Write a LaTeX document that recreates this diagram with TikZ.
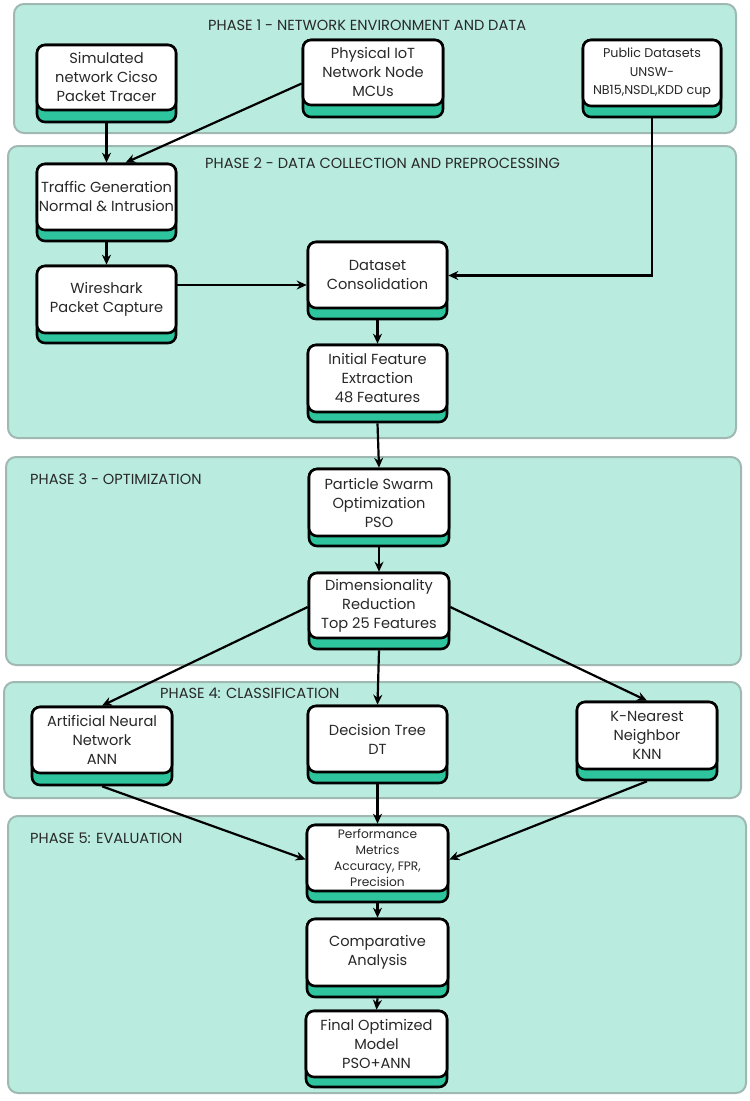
\documentclass[tikz,border=0pt]{standalone}
\usepackage{fontspec}
\setmainfont{Poppins}
\usetikzlibrary{arrows.meta}
\definecolor{panelfill}{RGB}{185,236,223}
\definecolor{paneldraw}{RGB}{160,184,178}
\definecolor{band}{RGB}{46,196,158}
\definecolor{txt}{RGB}{40,40,40}
\tikzset{
  panel/.style={draw=paneldraw, line width=2pt, fill=panelfill, rounded corners=10pt},
  ptitle/.style={anchor=west, text=txt, font=\fontsize{14.6}{16}\selectfont, inner sep=0pt},
  gbox/.style={draw=black, line width=2.6pt, fill=band, rounded corners=8pt, inner sep=0pt},
  wbox/.style={draw=black, line width=2.6pt, fill=white, rounded corners=8pt, inner sep=0pt, align=center, text=txt, font=\fontsize{14.6}{19}\selectfont},
  small/.style={font=\fontsize{12.7}{18.5}\selectfont},
  smaller/.style={font=\fontsize{12.2}{16}\selectfont},
  conn/.style={draw=black, line width=2.2pt, -{Stealth[length=10pt,width=9pt]}}
}
% \bx{name}{x1}{y1}{x2}{y2 white bottom}{y3 band bottom}{options}{text}
\newcommand{\bx}[8]{%
  \node[gbox, minimum width={#4-#2}, minimum height={#6-#3}] (#1) at ({(#2+#4)/2},{(#3+#6)/2}) {};
  \node[wbox, minimum width={#4-#2}, minimum height={#5-#3}, #7] (#1-t) at ({(#2+#4)/2},{(#3+#5)/2}) {#8};
}
\begin{document}
\begin{tikzpicture}[x=1pt,y=-1pt]
\useasboundingbox (0,0) rectangle (750,1101);
\fill[white] (0,0) rectangle (750,1101);
% panels
\draw[panel] (14,4) rectangle (736,133);
\draw[panel] (8,146) rectangle (736,438);
\draw[panel] (6,457) rectangle (741,665);
\draw[panel] (4,682) rectangle (741,798);
\draw[panel] (8,816) rectangle (746,1093);
\node[ptitle] (t1) at (208,25) {PHASE 1 - NETWORK ENVIRONMENT AND DATA};
\node[ptitle] (t2) at (205,163) {PHASE 2 - DATA COLLECTION AND PREPROCESSING};
\node[ptitle] (t3) at (30,479) {PHASE 3 - OPTIMIZATION};
\node[ptitle] (t4) at (160,693) {PHASE 4: CLASSIFICATION};
\node[ptitle] (t5) at (30,838) {PHASE 5: EVALUATION};
% boxes
\bx{sim}{37}{45}{176}{110}{122}{}{Simulated\\network Cicso\\Packet Tracer}
\bx{phy}{303}{40}{443}{105}{117}{}{Physical IoT\\Network Node\\MCUs}
\bx{pub}{583}{40}{721}{106}{117}{small}{Public Datasets\\UNSW-\\NB15,NSDL,KDD cup}
\bx{trf}{37}{164}{176}{230}{241}{}{Traffic Generation\\Normal \& Intrusion}
\bx{wir}{37}{266}{176}{333}{343}{}{Wireshark\\Packet Capture}
\bx{dsc}{308}{242}{447}{308}{319}{}{Dataset\\Consolidation}
\bx{ife}{308}{345}{447}{412}{422}{}{Initial Feature\\Extraction\\48 Features}
\bx{pso}{309}{469}{449}{536}{546}{}{Particle Swarm\\Optimization\\PSO}
\bx{dim}{309}{573}{449}{638}{649}{}{Dimensionality\\Reduction\\Top 25 Features}
\bx{ann}{32}{707}{172}{773}{785}{}{Artificial Neural\\Network\\ANN}
\bx{dt}{308}{706}{447}{772}{783}{}{Decision Tree\\DT}
\bx{knn}{577}{702}{717}{769}{780}{}{K-Nearest\\Neighbor\\KNN}
\bx{prf}{307}{825}{448}{891}{902}{smaller}{Performance\\Metrics\\Accuracy, FPR,\\Precision}
\bx{cmp}{307}{919}{448}{986}{997}{}{Comparative\\Analysis}
\bx{fin}{306}{1011}{447}{1077}{1087}{}{Final Optimized\\Model\\PSO+ANN}
% connectors
\draw[conn] (sim.south) -- (trf.north);
\draw[conn] ([yshift=-5pt]phy.west) -- ([xshift=19pt]trf.north);
\draw[conn] (pub.south) |- ([yshift=5pt]dsc.east);
\draw[conn] (trf.south) -- (wir.north);
\draw[conn] ([yshift=19.5pt]wir.east) -- ([yshift=19.5pt]wir.east -| dsc.west);
\draw[conn] (dsc.south) -- (ife.north);
\draw[conn] (ife.south) -- (pso.north);
\draw[conn] (pso.south) -- (dim.north);
\draw[conn] ([yshift=4pt]dim.west) -- (ann.north);
\draw[conn] (dim.south) -- (dt.north);
\draw[conn] ([yshift=4pt]dim.east) -- (knn.north);
\draw[conn] (ann.south) -- ([yshift=4pt]prf.west);
\draw[conn] (dt.south) -- (prf.north);
\draw[conn] (knn.south) -- ([yshift=4pt]prf.east);
\draw[conn] (prf.south) -- (cmp.north);
\draw[conn] (cmp.south) -- (fin.north);
\end{tikzpicture}
\end{document}
